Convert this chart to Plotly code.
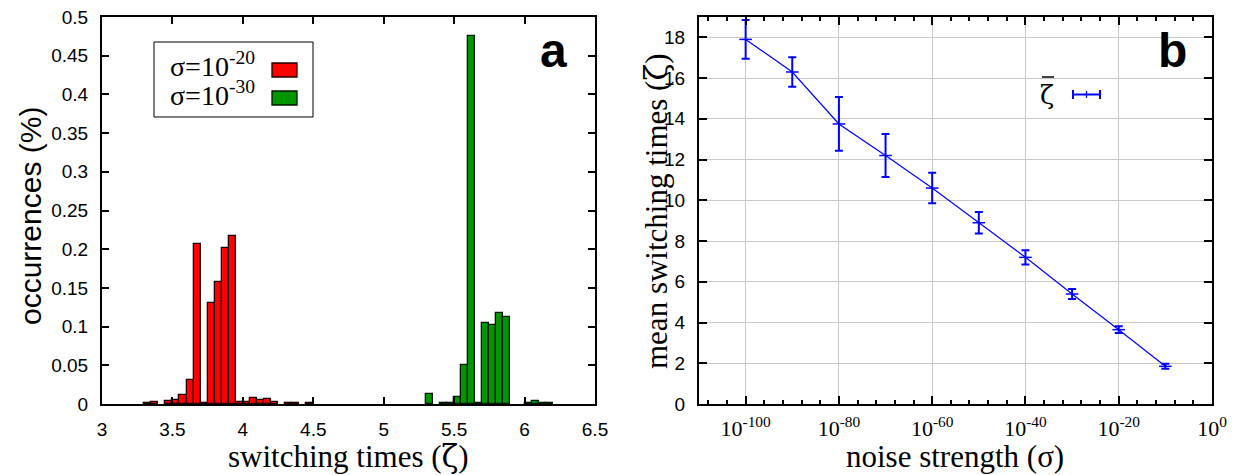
import plotly.graph_objects as go

# ---------------- data ----------------
# panel a: histogram of switching times (bin width 0.05)
red_x = [3.325, 3.375, 3.475, 3.525, 3.575, 3.625, 3.675, 3.725, 3.775, 3.825, 3.875,
         3.925, 3.975, 4.025, 4.075, 4.125, 4.175, 4.225, 4.325, 4.375, 4.475]
red_y = [0.001, 0.003, 0.004, 0.005, 0.011, 0.031, 0.207, 0.001, 0.131, 0.158, 0.201,
         0.217, 0.003, 0.002, 0.008, 0.0056, 0.007, 0.003, 0.001, 0.0015, 0.001]
green_x = [5.325, 5.425, 5.475, 5.525, 5.575, 5.625, 5.675, 5.725, 5.775, 5.825, 5.875,
           6.025, 6.075, 6.125, 6.175]
green_y = [0.013, 0.001, 0.001, 0.009, 0.050, 0.475, 0.001, 0.105, 0.102, 0.117, 0.112,
           0.001, 0.004, 0.001, 0.0015]
bin_width = 0.05
red_label = "σ=10<sup>-20</sup>"
green_label = "σ=10<sup>-30</sup>"

# panel b: mean switching time vs noise strength
sigma = [1e-100, 1e-90, 1e-80, 1e-70, 1e-60, 1e-50, 1e-40, 1e-30, 1e-20, 1e-10]
zeta_mean = [17.9, 16.3, 13.75, 12.2, 10.6, 8.9, 7.2, 5.4, 3.65, 1.85]
zeta_err = [0.95, 0.73, 1.32, 1.05, 0.75, 0.53, 0.35, 0.25, 0.17, 0.12]
b_tickvals = [1e-100, 1e-80, 1e-60, 1e-40, 1e-20, 1e0]
b_ticktext = ["10<sup>-100</sup>", "10<sup>-80</sup>", "10<sup>-60</sup>",
              "10<sup>-40</sup>", "10<sup>-20</sup>", "10<sup>0</sup>"]

SANS = "Liberation Sans, Arial, Helvetica, sans-serif"
SERIF = "Liberation Serif, Times New Roman, Times, serif"
ZETA = "<span style='font-family:DejaVu Serif'>ζ</span>"
W, H = 1239, 475

def px(x):
    return x / W

def py(y):
    return 1 - y / H

fig = go.Figure()

fig.add_trace(go.Bar(x=red_x, y=red_y, width=bin_width, name="s20",
                     marker=dict(color="#ff0000", line=dict(color="#200000", width=1.3)),
                     xaxis="x", yaxis="y", showlegend=False))
fig.add_trace(go.Bar(x=green_x, y=green_y, width=bin_width, name="s30",
                     marker=dict(color="#009600", line=dict(color="#001800", width=1.3)),
                     xaxis="x", yaxis="y", showlegend=False))

fig.add_trace(go.Scatter(x=sigma, y=zeta_mean, mode="lines+markers",
                         line=dict(color="#0000ff", width=1.2),
                         marker=dict(symbol="line-ew", size=9,
                                     line=dict(color="#0000ff", width=1.5)),
                         error_y=dict(type="data", array=zeta_err, visible=True,
                                      color="#0000ff", thickness=2, width=4),
                         xaxis="x2", yaxis="y2", showlegend=False))

ydom = [py(404), py(17)]
axis_common = dict(showline=True, linecolor="black", linewidth=2, mirror="ticks",
                   ticks="inside", tickcolor="black", zeroline=False, automargin=False)

fig.update_layout(
    template="none",
    width=W, height=H,
    margin=dict(l=0, r=0, t=0, b=0, pad=0),
    paper_bgcolor="white", plot_bgcolor="white",
    bargap=0, barmode="overlay",
    xaxis=dict(domain=[px(102), px(595)], range=[3, 6.5], dtick=0.5, tick0=3,
               ticklen=7, tickwidth=2, showgrid=False,
               tickfont=dict(family=SANS, size=19, color="black"),
               ticklabelstandoff=7, anchor="y", **axis_common),
    yaxis=dict(domain=ydom, range=[0, 0.5], dtick=0.05, tick0=0,
               ticklen=7, tickwidth=2, showgrid=False,
               tickfont=dict(family=SANS, size=19, color="black"),
               ticklabelstandoff=8, anchor="x", **axis_common),
    xaxis2=dict(domain=[px(699), px(1212)], type="log", range=[-110, 0],
                tickmode="array", tickvals=b_tickvals, ticktext=b_ticktext,
                ticklen=8, tickwidth=2, showgrid=True, gridcolor="#c8c8c8", gridwidth=1,
                minor=dict(tickmode="linear", tick0=0, dtick=4, ticks="inside",
                           ticklen=4, tickwidth=1.5, tickcolor="black", showgrid=False),
                tickfont=dict(family=SERIF, size=22, color="black"),
                ticklabelstandoff=4, anchor="y2", **axis_common),
    yaxis2=dict(domain=ydom, range=[0, 19], dtick=2, tick0=0,
                ticklen=8, tickwidth=2, showgrid=True, gridcolor="#c8c8c8", gridwidth=1,
                tickfont=dict(family=SANS, size=19, color="black"),
                ticklabelstandoff=8, anchor="x2", **axis_common),
)

ann = []
# axis titles
ann.append(dict(text="occurrences (%)", x=px(31), y=py(216), xref="paper", yref="paper",
                textangle=-90, showarrow=False, xanchor="center", yanchor="middle",
                font=dict(family=SANS, size=30, color="black")))
ann.append(dict(text="switching times (" + ZETA + ")", x=px(348), y=py(456),
                xref="paper", yref="paper", showarrow=False, xanchor="center",
                yanchor="middle", font=dict(family=SERIF, size=31, color="black")))
ann.append(dict(text="mean switching times (" + ZETA + ")", x=px(656), y=py(211),
                xref="paper", yref="paper", textangle=-90, showarrow=False,
                xanchor="center", yanchor="middle",
                font=dict(family=SERIF, size=31, color="black")))
ann.append(dict(text="noise strength (σ)", x=px(955), y=py(456), xref="paper", yref="paper",
                showarrow=False, xanchor="center", yanchor="middle",
                font=dict(family=SERIF, size=31, color="black")))
# panel letters
ann.append(dict(text="<b>a</b>", x=px(553), y=py(50), xref="paper", yref="paper",
                showarrow=False, xanchor="center", yanchor="middle",
                font=dict(family=SANS, size=48, color="black")))
ann.append(dict(text="<b>b</b>", x=px(1172), y=py(50), xref="paper", yref="paper",
                showarrow=False, xanchor="center", yanchor="middle",
                font=dict(family=SANS, size=48, color="black")))
# legend of panel a
ann.append(dict(text=red_label, x=px(168), y=py(64), xref="paper", yref="paper",
                showarrow=False, xanchor="left", yanchor="middle",
                font=dict(family=SERIF, size=28, color="black")))
ann.append(dict(text=green_label, x=px(168), y=py(93), xref="paper", yref="paper",
                showarrow=False, xanchor="left", yanchor="middle",
                font=dict(family=SERIF, size=28, color="black")))
# legend of panel b
ann.append(dict(text=ZETA, x=px(1047), y=py(95), xref="paper", yref="paper",
                showarrow=False, xanchor="center", yanchor="middle",
                font=dict(family=SERIF, size=26, color="black")))

shapes = []
shapes.append(dict(type="rect", xref="paper", yref="paper",
                   x0=px(154), x1=px(313), y0=py(117), y1=py(42),
                   line=dict(color="black", width=1), fillcolor="white", layer="below"))
shapes.append(dict(type="rect", xref="paper", yref="paper",
                   x0=px(272), x1=px(297), y0=py(77), y1=py(63),
                   line=dict(color="#200000", width=1.3), fillcolor="#ff0000"))
shapes.append(dict(type="rect", xref="paper", yref="paper",
                   x0=px(272), x1=px(297), y0=py(105), y1=py(91),
                   line=dict(color="#001800", width=1.3), fillcolor="#009600"))
# macron over zeta
shapes.append(dict(type="line", xref="paper", yref="paper", x0=px(1042), x1=px(1054),
                   y0=py(77), y1=py(77), line=dict(color="black", width=1.5)))
# panel b legend glyph (horizontal error bar)
lb = dict(color="#0000ff", width=2)
shapes.append(dict(type="line", xref="paper", yref="paper", x0=px(1073), x1=px(1100),
                   y0=py(94.5), y1=py(94.5), line=lb))
shapes.append(dict(type="line", xref="paper", yref="paper", x0=px(1073), x1=px(1073),
                   y0=py(90), y1=py(99), line=lb))
shapes.append(dict(type="line", xref="paper", yref="paper", x0=px(1100), x1=px(1100),
                   y0=py(90), y1=py(99), line=lb))
shapes.append(dict(type="line", xref="paper", yref="paper", x0=px(1086.5), x1=px(1086.5),
                   y0=py(91), y1=py(98), line=dict(color="#0000ff", width=1.2)))

fig.update_layout(annotations=ann, shapes=shapes)

fig.write_html("out.html",
               config={"displayModeBar": False},
               post_script="document.body.style.margin='0px';"
                           "document.body.style.padding='0px';"
                           "document.body.style.overflow='hidden';")
